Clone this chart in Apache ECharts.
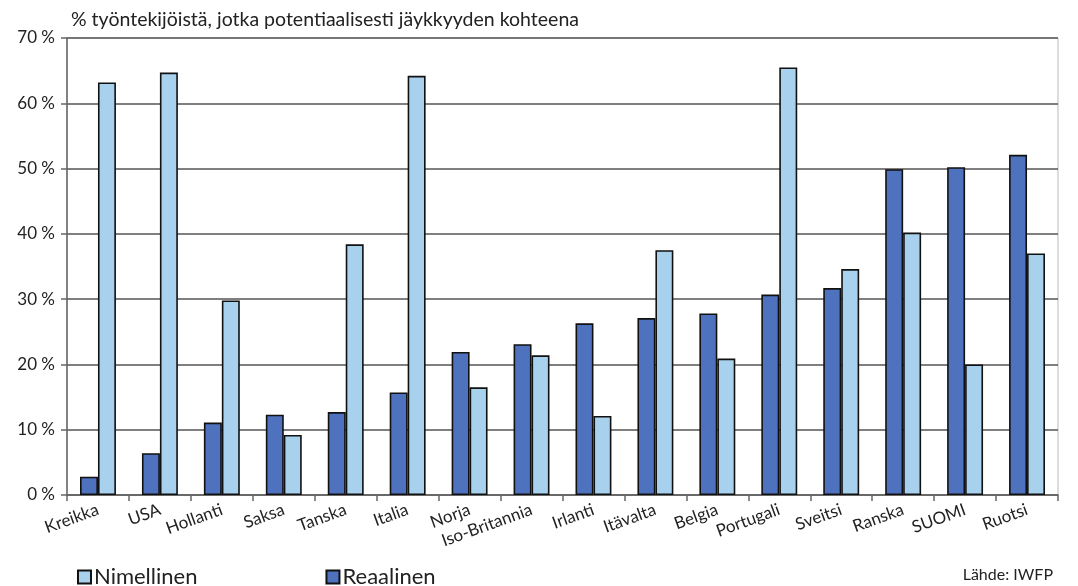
<!DOCTYPE html>
<html><head><meta charset="utf-8">
<script src="https://cdn.jsdelivr.net/npm/echarts@6/dist/echarts.min.js"></script>
<style>html,body{margin:0;padding:0;background:#fff}#c{width:1078px;height:586px}</style>
</head><body><div id="c"></div>
<script>
const categories = ['Kreikka','USA','Hollanti','Saksa','Tanska','Italia','Norja','Iso-Britannia','Irlanti','Itävalta','Belgia','Portugali','Sveitsi','Ranska','SUOMI','Ruotsi'];
const reaalinen = [2.8, 6.4, 11.1, 12.3, 12.7, 15.7, 21.9, 23.1, 26.3, 27.1, 27.8, 30.7, 31.7, 49.9, 50.2, 52.1];
const nimellinen = [63.2, 64.7, 29.8, 9.2, 38.4, 64.2, 16.5, 21.4, 12.1, 37.5, 20.9, 65.5, 34.6, 40.2, 20.0, 37.0];
const yTicks = [0, 10, 20, 30, 40, 50, 60, 70];
const titleText = '% työntekijöistä, jotka potentiaalisesti jäykkyyden kohteena';
const sourceText = 'Lähde: IWFP';

const FONT = 'Lato';
const chart = echarts.init(document.getElementById('c'), null, {renderer: 'canvas'});
const catData = categories.map(c => c === 'Iso-Britannia'
  ? {value: c, textStyle: {padding: [24, 0, 0, 0]}}
  : ((c === 'Portugali' || c === 'Hollanti') ? {value: c, textStyle: {padding: [6, 0, 0, 0]}} : c));
chart.setOption({
  animation: false,
  textStyle: {fontFamily: FONT},
  title: [
    {text: titleText, left: 66, top: 5, textStyle: {fontFamily: FONT, fontSize: 19.5, fontWeight: 'normal', color: '#222'}},
    {text: sourceText, right: 20, top: 562, textStyle: {fontFamily: FONT, fontSize: 16, fontWeight: 'normal', color: '#222'}}
  ],
  legend: {
    data: ['Nimellinen', 'Reaalinen'],
    left: 72, top: 561,
    itemWidth: 13, itemHeight: 13, itemGap: 128,
    icon: 'rect',
    textStyle: {fontFamily: FONT, fontSize: 22, color: '#222', padding: [0, 0, 0, -2]}
  },
  grid: {left: 67, right: 20, top: 38, bottom: 91, show: true, borderColor: '#bbb', borderWidth: 1},
  xAxis: {
    type: 'category',
    data: catData,
    axisLine: {lineStyle: {color: '#666', width: 1.5}},
    axisTick: {show: true, length: 6, lineStyle: {color: '#666', width: 1.5}},
    axisLabel: {rotate: 20, interval: 0, margin: 14, fontFamily: FONT, fontSize: 17, color: '#222'}
  },
  yAxis: {
    type: 'value', min: 0, max: 70, interval: 10,
    axisLine: {show: true, lineStyle: {color: '#666', width: 1.5}},
    axisTick: {show: true, length: 6, lineStyle: {color: '#666', width: 1.5}},
    splitLine: {lineStyle: {color: '#555', width: 1.5}},
    axisLabel: {margin: 12, fontFamily: FONT, fontSize: 17, color: '#222',
      formatter: v => yTicks.includes(v) ? v + ' %' : ''}
  },
  series: [
    {name: 'Reaalinen', type: 'bar', data: reaalinen, barGap: '0%', barCategoryGap: '42%',
      itemStyle: {color: '#4e72bd', borderColor: '#111', borderWidth: 1.6}},
    {name: 'Nimellinen', type: 'bar', data: nimellinen, barGap: '0%', barCategoryGap: '42%',
      itemStyle: {color: '#a8d1ee', borderColor: '#111', borderWidth: 1.6}}
  ]
});
</script></body></html>
